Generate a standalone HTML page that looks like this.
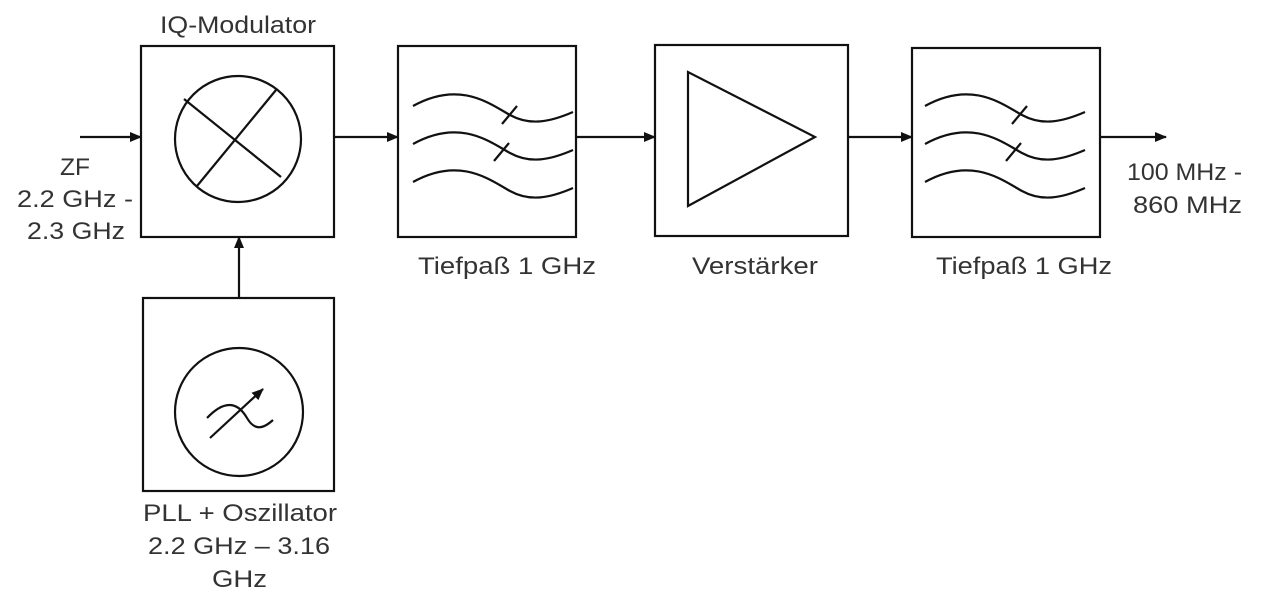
<!DOCTYPE html>
<html><head><meta charset="utf-8"><style>
html,body{margin:0;padding:0;background:#fff;}
svg{display:block;}
text{font-family:"Liberation Sans",sans-serif;font-size:24px;fill:#333;}
</style></head><body>
<svg width="1280" height="606" viewBox="0 0 1280 606" xmlns="http://www.w3.org/2000/svg">
<defs><marker id="a" markerWidth="12" markerHeight="10" refX="11" refY="5" orient="auto" markerUnits="userSpaceOnUse"><path d="M0,0 L12,5 L0,10 z" fill="#111"/></marker></defs>
<g stroke="#111" stroke-width="2.2" fill="none">
<rect x="141" y="46" width="193" height="191"/>
<rect x="398" y="46" width="178" height="191"/>
<rect x="655" y="45" width="193" height="191"/>
<rect x="912" y="48" width="188" height="189"/>
<rect x="143" y="298" width="191" height="193"/>
<circle cx="238" cy="139" r="63"/>
<line x1="184" y1="99" x2="281" y2="177"/>
<line x1="276" y1="90" x2="197" y2="186"/>
<circle cx="239" cy="412" r="64"/>
<path d="M207,418 C228,396 240,406 247,418 C254,430 262,430 273,420"/>
<line x1="210" y1="438" x2="263" y2="389" marker-end="url(#a)"/>
<path d="M688,72 L688,206 L815,137 z"/>
<path d="M413,106 C460,80 490,104 510,115 C530,126 550,122 573,112"/>
<path d="M413,144 C460,118 490,142 510,153 C530,164 550,160 573,150"/>
<path d="M413,182 C460,156 490,180 510,191 C530,202 550,198 573,188"/>
<line x1="502" y1="124" x2="517" y2="106"/><line x1="494" y1="161" x2="509" y2="143"/>
<path d="M925,106 C972,80 1002,104 1022,115 C1042,126 1062,122 1085,112"/>
<path d="M925,144 C972,118 1002,142 1022,153 C1042,164 1062,160 1085,150"/>
<path d="M925,182 C972,156 1002,180 1022,191 C1042,202 1062,198 1085,188"/>
<line x1="1012" y1="124" x2="1027" y2="106"/><line x1="1006" y1="161" x2="1021" y2="143"/>
<line x1="80" y1="137" x2="141" y2="137" marker-end="url(#a)"/>
<line x1="334" y1="137" x2="398" y2="137" marker-end="url(#a)"/>
<line x1="576" y1="137" x2="655" y2="137" marker-end="url(#a)"/>
<line x1="848" y1="137" x2="912" y2="137" marker-end="url(#a)"/>
<line x1="1100" y1="137" x2="1166" y2="137" marker-end="url(#a)"/>
<line x1="239" y1="298" x2="239" y2="237" marker-end="url(#a)"/>
</g>
<text x="160" y="33" textLength="156" lengthAdjust="spacingAndGlyphs">IQ-Modulator</text>
<text x="418" y="274" textLength="178" lengthAdjust="spacingAndGlyphs">Tiefpaß 1 GHz</text>
<text x="692" y="274" textLength="126" lengthAdjust="spacingAndGlyphs">Verstärker</text>
<text x="936" y="274" textLength="176" lengthAdjust="spacingAndGlyphs">Tiefpaß 1 GHz</text>
<text x="1127" y="180" textLength="115" lengthAdjust="spacingAndGlyphs">100 MHz -</text>
<text x="1133" y="213" textLength="109" lengthAdjust="spacingAndGlyphs">860 MHz</text>
<text x="60" y="175" textLength="30" lengthAdjust="spacingAndGlyphs">ZF</text>
<text x="17" y="207" textLength="116" lengthAdjust="spacingAndGlyphs">2.2 GHz -</text>
<text x="27" y="239" textLength="98" lengthAdjust="spacingAndGlyphs">2.3 GHz</text>
<text x="143" y="521" textLength="194" lengthAdjust="spacingAndGlyphs">PLL + Oszillator</text>
<text x="148" y="554" textLength="182" lengthAdjust="spacingAndGlyphs">2.2 GHz – 3.16</text>
<text x="212" y="587" textLength="55" lengthAdjust="spacingAndGlyphs">GHz</text>
</svg>
</body></html>
